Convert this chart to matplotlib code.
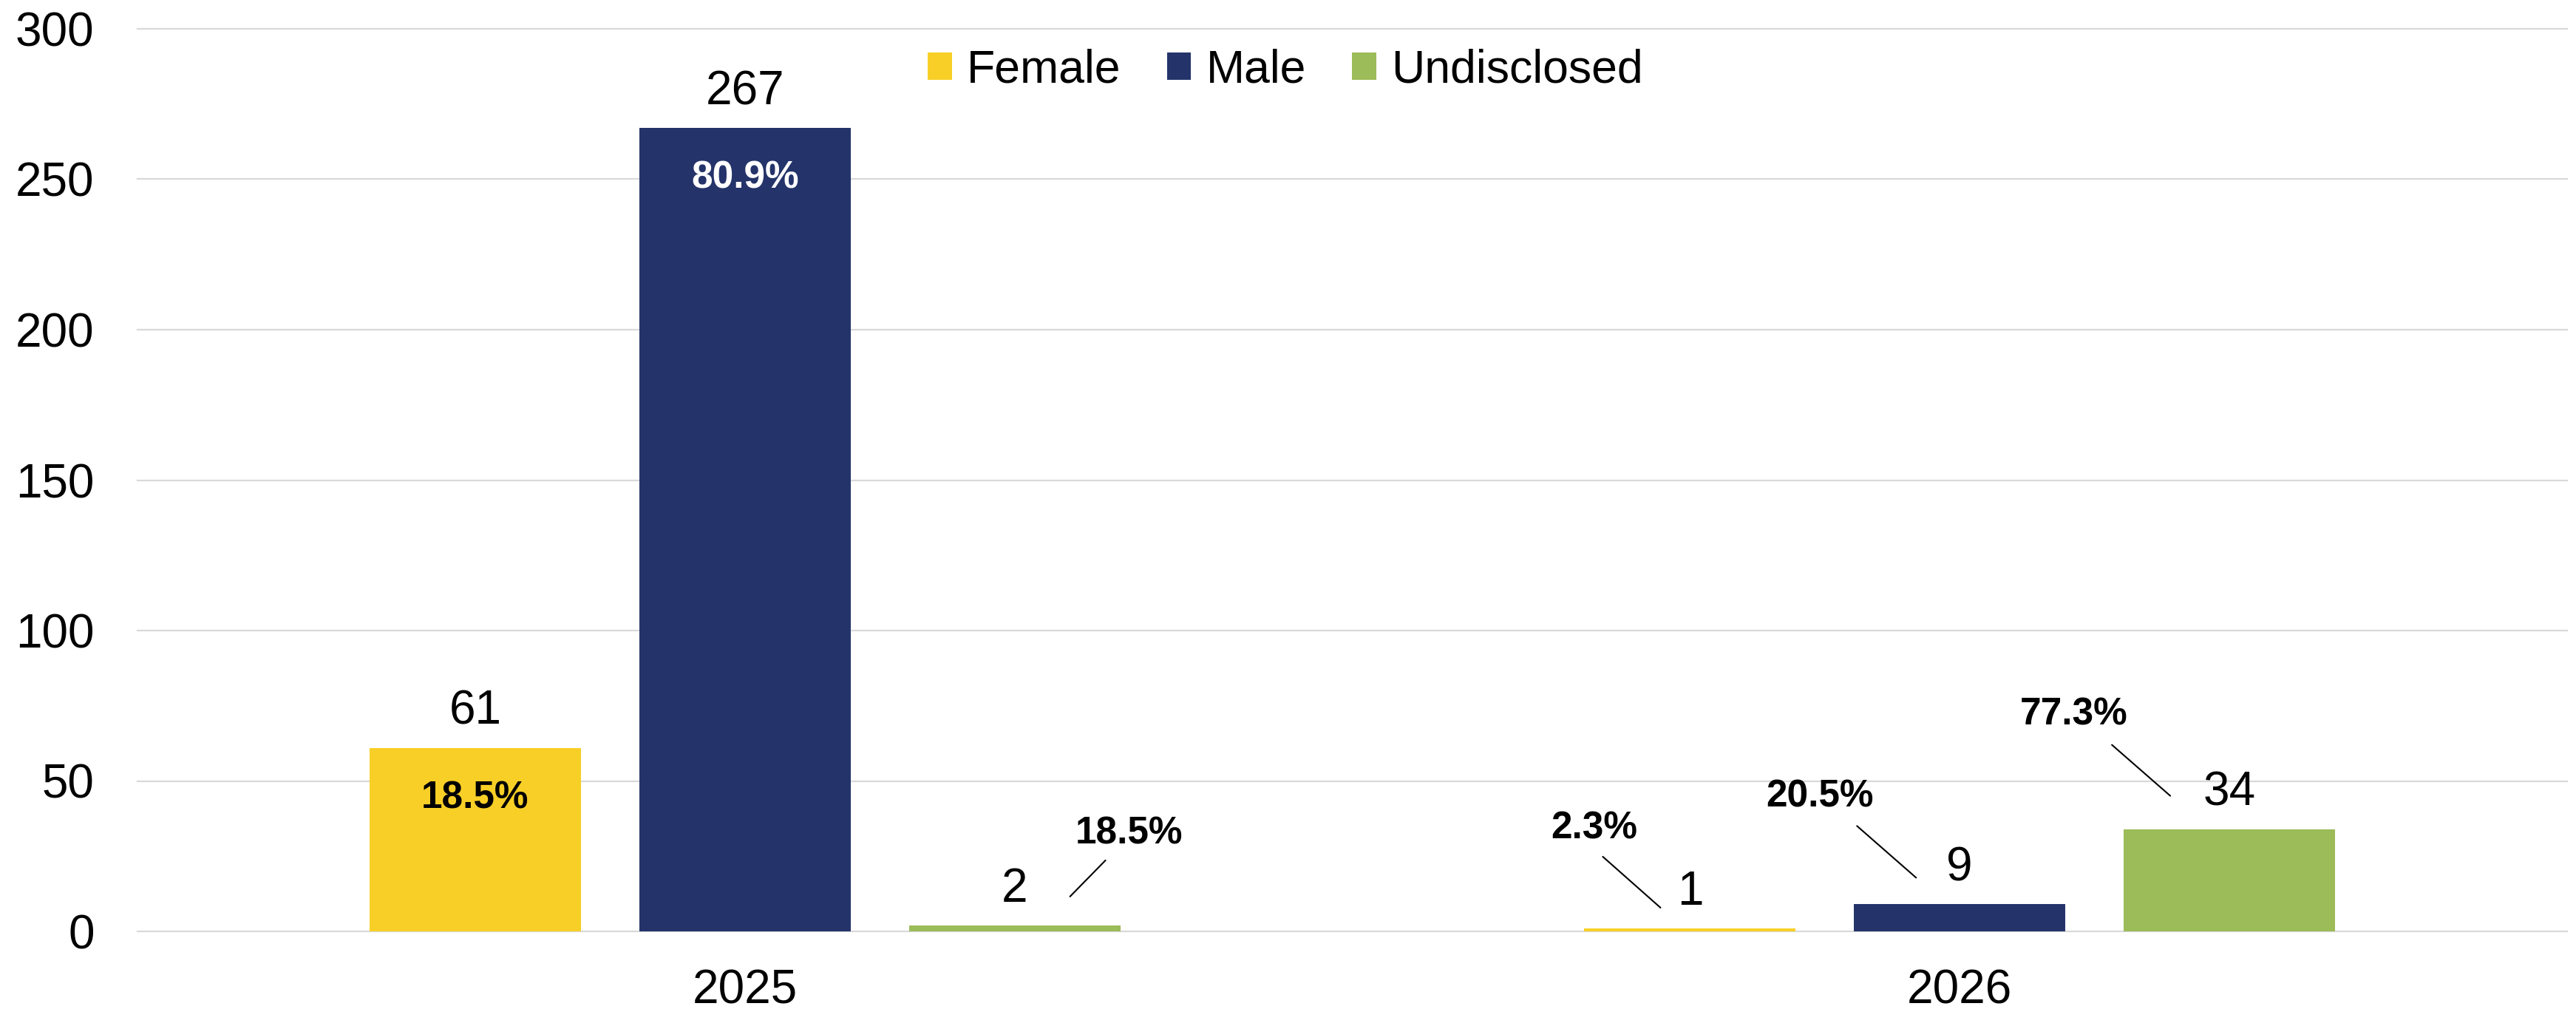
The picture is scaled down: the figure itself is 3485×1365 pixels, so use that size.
import matplotlib
matplotlib.use("Agg")
import matplotlib.pyplot as plt
from matplotlib.text import OffsetFrom
from matplotlib.patches import Patch

# ────────────────────────────────────────
#   Data
# ────────────────────────────────────────
YEARS = ["2025", "2026"]
SERIES = ["Female", "Male", "Undisclosed"]
FEMALE = [61, 1]
MALE = [267, 9]
UNDISCLOSED = [2, 34]
FEMALE_PCT = ["18.5%", "2.3%"]
MALE_PCT = ["80.9%", "20.5%"]
UNDISCLOSED_PCT = ["18.5%", "77.3%"]

COLORS = ["#F8CF26", "#24346A", "#9CBB59"]
FONT = "Liberation Sans"
W, H = 3485, 1365

# label placement per (series, year): ("inside", color) or ("leader", text offset, line start, line end)
# offsets in pixels relative to the top centre of the bar (x right, y up)
PCT_STYLE = {
    (0, 0): ("inside", "black"),
    (1, 0): ("inside", "white"),
    (2, 0): ("leader", (155, 124), (75, 39), (123, 88)),
    (0, 1): ("leader", (-130, 135), (-40, 28), (-118, 97)),
    (1, 1): ("leader", (-189, 145), (-59, 36), (-139, 106)),
    (2, 1): ("leader", (-210, 155), (-80, 45), (-159, 114)),
}

fig = plt.figure(figsize=(W / 100, H / 100), dpi=100)
ax = fig.add_axes([186 / W, 1 - 1260 / H, (3473 - 186) / W, (1260 - 39) / H])

values = [FEMALE, MALE, UNDISCLOSED]
pcts = [FEMALE_PCT, MALE_PCT, UNDISCLOSED_PCT]
offsets = [-0.222, 0.0, 0.222]
width = 0.174

for s, (vals, pct, off) in enumerate(zip(values, pcts, offsets)):
    xs = [i + off for i in range(len(YEARS))]
    ax.bar(xs, vals, width=width, color=COLORS[s], zorder=3)
    for i, (x, v, p) in enumerate(zip(xs, vals, pct)):
        # value above bar
        ax.annotate(str(v), xy=(x, v), xytext=(0, 49), textcoords="offset pixels",
                    ha="center", va="center", fontsize=46, family=FONT, color="black")
        style = PCT_STYLE[(s, i)]
        if style[0] == "inside":
            ax.annotate(p, xy=(x, v), xytext=(0, -68), textcoords="offset pixels",
                        ha="center", va="center", fontsize=37, fontweight="bold",
                        family=FONT, color=style[1])
        else:
            _, t_off, l_a, l_b = style
            ax.annotate(p, xy=(x, v), xytext=t_off, textcoords="offset pixels",
                        ha="center", va="center", fontsize=37, fontweight="bold",
                        family=FONT, color="black")
            ref = OffsetFrom(ax.transData, (x, v), unit="pixels")
            ax.annotate("", xy=l_a, xycoords=ref, xytext=l_b, textcoords=ref,
                        arrowprops=dict(arrowstyle="-", color="black", lw=1.5,
                                        shrinkA=0, shrinkB=0))

ax.set_xlim(-0.5, 1.5)
ax.set_ylim(0, 300)
ax.set_yticks(range(0, 301, 50))
ax.set_xticks(range(len(YEARS)))
ax.set_xticklabels(YEARS)
for sp in ax.spines.values():
    sp.set_visible(False)
ax.yaxis.grid(True, color="#D9D9D9", lw=1.6, zorder=0)
for gl in ax.get_ygridlines():
    gl.set_clip_on(False)
ax.set_axisbelow(True)
ax.tick_params(axis="both", length=0, labelsize=46)
ax.tick_params(axis="y", pad=42)
ax.tick_params(axis="x", pad=36)
for lbl in ax.get_xticklabels() + ax.get_yticklabels():
    lbl.set_family(FONT)

handles = [Patch(facecolor=c, edgecolor="none") for c in COLORS]
fig.legend(handles, SERIES, loc="center", bbox_to_anchor=(1739 / W, 1 - 95 / H),
           ncol=3, frameon=False, prop={"family": FONT, "size": 45},
           handlelength=0.52, handleheight=0.55, handletextpad=0.32,
           columnspacing=1.0)

fig.savefig("out.png", dpi=100, facecolor="white")
